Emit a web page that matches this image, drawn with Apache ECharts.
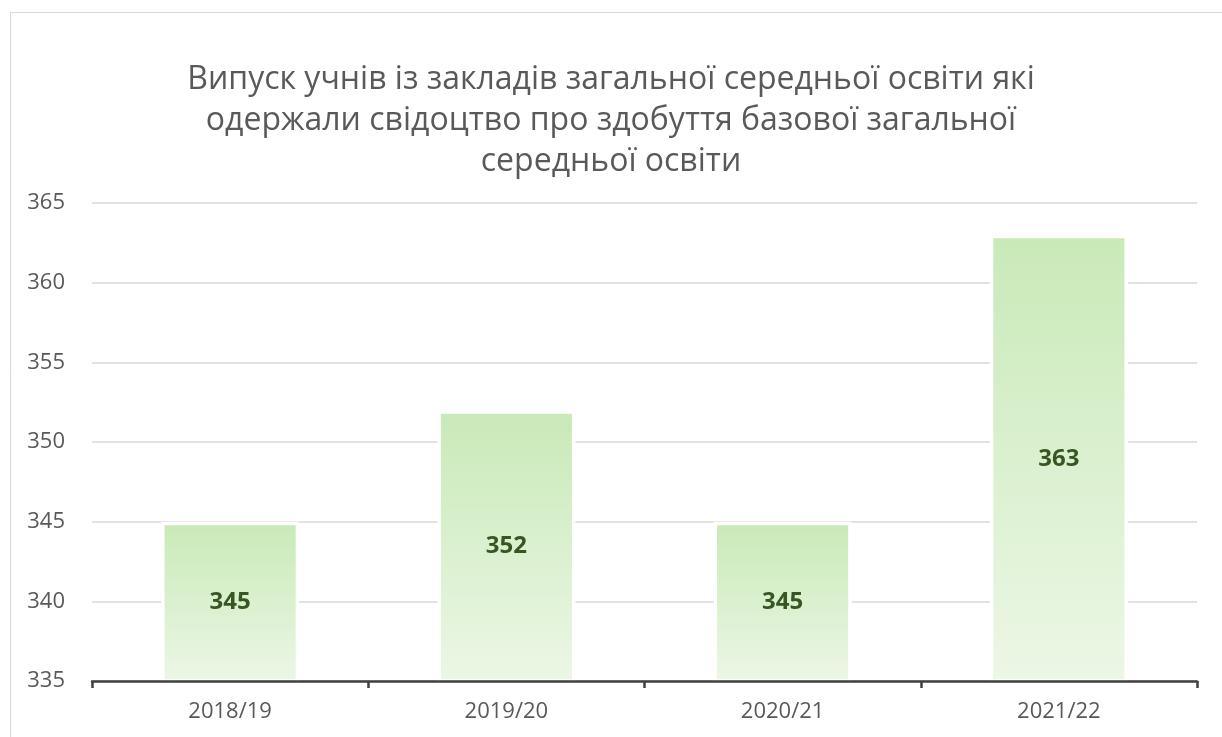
<!DOCTYPE html>
<html><head><meta charset="utf-8">
<script src="https://cdn.jsdelivr.net/npm/echarts@6/dist/echarts.min.js"></script>
<style>html,body{margin:0;padding:0;background:#fff}#c{width:1222px;height:737px}</style>
</head><body><div id="c"></div>
<script>
const titleText = 'Випуск учнів із закладів загальної середньої освіти які\nодержали свідоцтво про здобуття базової загальної\nсередньої освіти';
const categories = ['2018/19', '2019/20', '2020/21', '2021/22'];
const values = [345, 352, 345, 363];
const yMin = 335, yMax = 365, yStep = 5;

const chart = echarts.init(document.getElementById('c'), null, {renderer: 'canvas'});
const font = '"Open Sans", "Noto Sans", sans-serif';
chart.setOption({
  animation: false,
  textStyle: {fontFamily: font},
  graphic: [{type: 'rect', shape: {x: 10.5, y: 12.5, width: 1400, height: 900}, style: {fill: 'none', stroke: '#d9d9d9', lineWidth: 1}, z: -10}],
  title: {
    text: titleText, left: 'center', top: 54,
    textStyle: {fontFamily: font, fontSize: 32, fontWeight: 'normal', color: '#595959', lineHeight: 41}
  },
  grid: {left: 92, right: 25, top: 203, bottom: 56},
  xAxis: {
    type: 'category', data: categories, z: 5,
    axisLine: {lineStyle: {color: '#404040', width: 2.5}},
    axisTick: {show: true, length: 7, lineStyle: {color: '#404040', width: 2.5}},
    axisLabel: {color: '#595959', fontSize: 22, margin: 20, fontFamily: font}
  },
  yAxis: {
    type: 'value', min: yMin, max: yMax, interval: yStep,
    axisLine: {show: false}, axisTick: {show: false},
    splitLine: {lineStyle: {color: '#d9d9d9', width: 1.5}},
    axisLabel: {color: '#595959', fontSize: 22, margin: 27, fontFamily: font}
  },
  series: [{
    type: 'bar', data: values, barWidth: '50%',
    itemStyle: {
      color: new echarts.graphic.LinearGradient(0, 0, 0, 1, [
        {offset: 0, color: '#c9e9b8'}, {offset: 1, color: '#ecf7e6'}
      ]),
      borderColor: '#ffffff', borderWidth: 3.5
    },
    label: {show: true, position: 'inside', color: '#375623', fontWeight: 'bold', fontSize: 24, fontFamily: font}
  }]
});
</script></body></html>
